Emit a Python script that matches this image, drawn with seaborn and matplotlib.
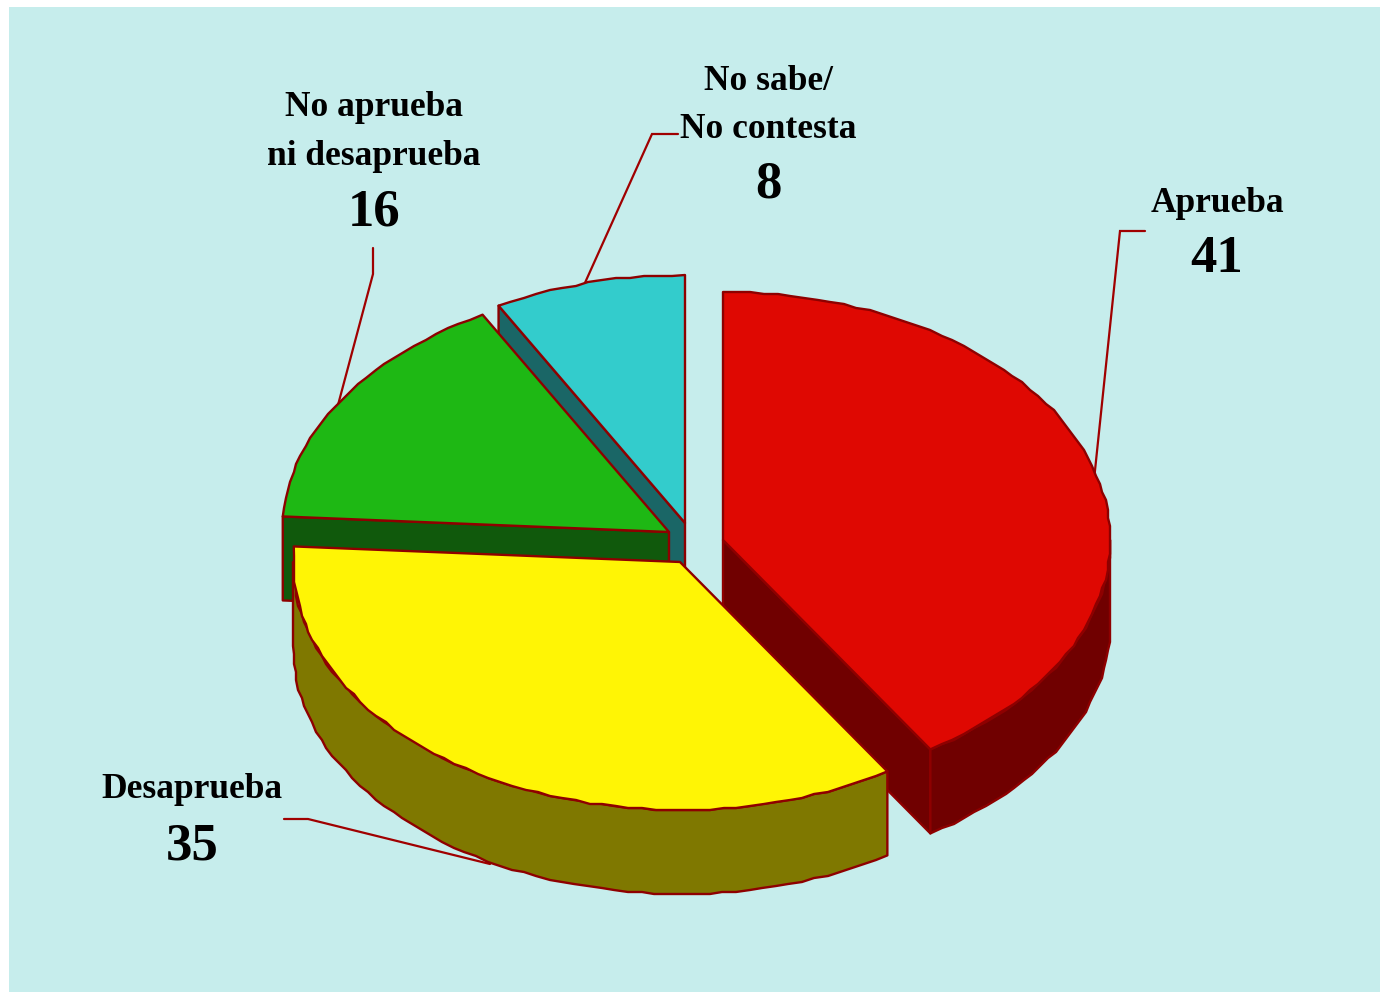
import numpy as np
import matplotlib
matplotlib.use("Agg")
import matplotlib.pyplot as plt
from matplotlib.patches import Rectangle
import seaborn as sns

# values, clockwise from 12 o'clock
labels = ["Aprueba", "Desaprueba", "No aprueba\nni desaprueba", "No sabe/\nNo contesta"]
values = [41, 35, 16, 8]

top_colors = ["#DF0802", "#FFF505", "#1EB814", "#33CCCC"]
side_colors = ["#700000", "#7F7800", "#10590C", "#1A6666"]
edge_color = "#8E0000"
bg_color = "#C6EDEC"

# pie geometry in pixels
rx, ry = 387, 248
depth = 84
apex = [(723, 540), (680, 562), (669, 532), (685, 523)]

sns.set_theme(style="white")
plt.rcParams["font.family"] = ["Liberation Serif", "DejaVu Serif"]


def arc(center, a0, a1, drop=0):
    """Points along the ellipse, angles in degrees clockwise from the top."""
    n = max(int((a1 - a0) / 2), 1) + 1
    t = np.radians(np.linspace(a0, a1, n))
    x = center[0] + rx * np.sin(t)
    y = center[1] - ry * np.cos(t) + drop
    # the original outline is stepped, not smooth
    x[1:-1] = np.round(x[1:-1] / 2) * 2
    y[1:-1] = np.round(y[1:-1] / 2) * 2
    return np.column_stack([x, y])


def draw_slice(ax, center, a0, a1, top, side):
    rim = arc(center, a0, a1)
    kw = dict(edgecolor=edge_color, linewidth=1.7, joinstyle="round", zorder=3)

    # cut faces that look towards the viewer
    for ang, visible in [(a0, 180 < a0 < 360), (a1, 0 < a1 <= 180)]:
        if visible:
            p = arc(center, ang, ang)[0]
            ax.fill([center[0], p[0], p[0], center[0]],
                    [center[1], p[1], p[1] + depth, center[1] + depth],
                    facecolor=side, **kw)

    # outer wall, only the front half of the ellipse shows
    lo, hi = max(a0, 90), min(a1, 270)
    if hi > lo:
        upper = arc(center, lo, hi)
        lower = arc(center, lo, hi, drop=depth)[::-1]
        wall = np.vstack([upper, lower])
        ax.fill(wall[:, 0], wall[:, 1], facecolor=side, **kw)

    ax.fill(np.r_[center[0], rim[:, 0]], np.r_[center[1], rim[:, 1]], facecolor=top, **kw)


fig = plt.figure(figsize=(13.8, 9.94), dpi=100, facecolor="white")
ax = fig.add_axes([0, 0, 1, 1])
ax.set_xlim(0, 1380)
ax.set_ylim(994, 0)
ax.axis("off")

ax.add_patch(Rectangle((9, 7), 1371, 985, facecolor=bg_color, edgecolor="none", zorder=0))

# leader lines go under the slices
leaders = [
    ([1145, 1120, 1094], [231, 231, 480]),
    ([284, 308, 490], [819, 819, 864]),
    ([373, 373, 338], [248, 274, 405]),
    ([678, 652, 584], [134, 134, 285]),
]
for lx, ly in leaders:
    ax.plot(lx, ly, color="#A00000", lw=1.6, solid_joinstyle="miter", zorder=2)

angles = np.r_[0, np.cumsum(values)] * 360 / sum(values)
for i in [3, 2, 0, 1]:
    draw_slice(ax, apex[i], angles[i], angles[i + 1], top_colors[i], side_colors[i])

# center x, baseline of the first name line, line gap, baseline of the number
label_pos = [
    (1217, 212, 0, 272),
    (192, 798, 0, 859),
    (374, 116, 49, 226),
    (768, 90, 48, 198),
]
for name, val, (x, y, gap, y_num) in zip(labels, values, label_pos):
    for j, line in enumerate(name.split("\n")):
        ax.text(x, y + j * gap, line, ha="center", va="baseline",
                fontsize=25.5, fontweight="bold", color="black", zorder=4)
    ax.text(x, y_num, str(val), ha="center", va="baseline",
            fontsize=38, fontweight="bold", color="black", zorder=4)

fig.savefig("out.png", dpi=100, facecolor="white")
